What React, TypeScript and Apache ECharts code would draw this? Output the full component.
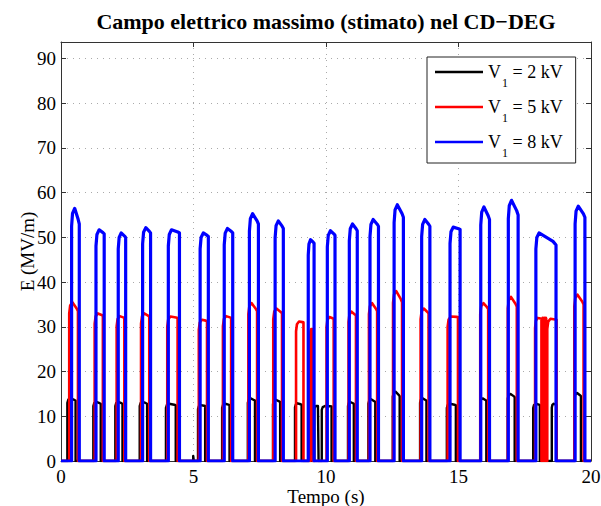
import React, { useEffect, useRef } from "react";
import * as echarts from "echarts";

const FONT = "'Liberation Serif', 'Times New Roman', Times, serif";

const titleText = "Campo elettrico massimo (stimato) nel CD\u2212DEG";
const xName = "Tempo (s)";
const yName = "E (MV/m)";
const voltages = ["2 kV", "5 kV", "8 kV"];
const colors = ["#000000", "#ff0000", "#0000ff"];

// V1 = 8 kV pulses (start s, end s, peak MV/m, level at end MV/m)
const t8Start = [0.40, 1.32, 2.16, 3.08, 4.05, 5.25, 6.16, 7.11, 8.08, 9.33, 10.05, 10.88, 11.66, 12.57, 13.61, 14.68, 15.84, 16.88, 17.92, 19.40];
const t8End = [0.69, 1.63, 2.44, 3.38, 4.47, 5.56, 6.48, 7.45, 8.39, 9.55, 10.34, 11.18, 11.98, 12.92, 13.92, 15.06, 16.17, 17.25, 18.68, 19.77];
const e8Peak = [56.5, 51.7, 51.0, 52.2, 51.7, 51.0, 52.0, 55.3, 53.7, 49.5, 51.5, 53.0, 54.0, 57.3, 54.0, 52.3, 56.8, 58.3, 51.0, 57.0];
const e8Tail = [53.0, 50.8, 50.0, 51.0, 51.0, 50.2, 51.0, 53.0, 52.0, 48.7, 50.5, 51.5, 52.5, 54.5, 52.5, 51.8, 54.0, 55.0, 48.3, 54.5];

// V1 = 5 kV pulses
const t5Start = [0.31, 1.27, 2.10, 3.02, 4.01, 5.20, 6.11, 7.07, 8.01, 8.87, 9.40, 10.02, 10.85, 11.62, 12.53, 13.57, 14.59, 15.82, 16.86, 17.89, 18.17, 18.23, 18.29, 18.35, 19.37];
const t5End = [0.64, 1.58, 2.39, 3.33, 4.40, 5.51, 6.42, 7.40, 8.34, 9.15, 9.50, 10.29, 11.13, 11.93, 12.87, 13.87, 14.98, 16.12, 17.20, 18.13, 18.19, 18.25, 18.31, 18.70, 19.72];
const e5Peak = [35.5, 33.0, 32.4, 33.0, 32.3, 31.6, 32.4, 35.3, 34.1, 31.2, 29.5, 32.2, 33.4, 35.3, 38.0, 34.1, 32.3, 35.3, 36.7, 32.0, 32.0, 32.0, 32.0, 31.8, 37.2];
const e5Tail = [33.5, 32.5, 32.0, 32.3, 32.0, 31.3, 32.0, 33.5, 33.0, 31.0, 29.5, 31.8, 32.5, 33.5, 35.5, 33.0, 32.2, 34.0, 34.5, 31.8, 32.0, 32.0, 31.8, 31.6, 35.0];

// V1 = 2 kV pulses
const t2Start = [0.24, 1.22, 2.05, 2.97, 3.96, 4.99, 5.17, 6.08, 7.05, 8.00, 8.83, 9.56, 9.84, 10.83, 11.60, 12.52, 13.55, 14.56, 15.82, 16.86, 17.82, 18.52, 19.38];
const t2End = [0.55, 1.50, 2.32, 3.25, 4.33, 5.01, 5.44, 6.36, 7.32, 8.27, 9.08, 9.72, 10.21, 11.05, 11.86, 12.78, 13.79, 14.90, 16.05, 17.12, 18.07, 18.70, 19.62];
const e2Peak = [14.0, 13.2, 13.2, 13.2, 12.8, 1.2, 12.5, 12.8, 14.0, 13.7, 12.9, 12.3, 12.3, 13.2, 13.8, 15.5, 14.0, 12.8, 14.0, 15.0, 12.8, 12.8, 15.2];
const e2Tail = [13.5, 12.8, 12.8, 12.8, 12.5, 1.2, 12.3, 12.5, 13.5, 13.2, 12.6, 12.3, 12.2, 12.8, 13.2, 14.5, 13.5, 12.5, 13.5, 14.3, 12.5, 12.5, 14.5];

const X_MIN = 0;
const X_MAX = 20;
const Y_MAX = 93.7;

function buildPulses(starts: number[], ends: number[], peaks: number[], tails: number[]): [number, number][] {
  const pts: [number, number][] = [[X_MIN, 0]];
  for (let i = 0; i < starts.length; i++) {
    const s = starts[i];
    const e = ends[i];
    const p = peaks[i];
    const t = tails[i];
    const w = e - s;
    const tp = s + Math.min(0.4 * w, 0.12);
    pts.push([s, 0]);
    pts.push([s, 0.93 * p]);
    pts.push([s + 0.3 * (tp - s), 0.98 * p]);
    pts.push([tp, p]);
    pts.push([e - 0.15 * w, 0.5 * (p + t) + 0.2 * (t - p)]);
    pts.push([e, t]);
    pts.push([e, 0]);
  }
  pts.push([X_MAX, 0]);
  return pts;
}

export default function App() {
  const ref = useRef<HTMLDivElement>(null);
  useEffect(() => {
    if (!ref.current) return;
    const chart = echarts.init(ref.current, null, { renderer: "svg" });
    const data2 = buildPulses(t2Start, t2End, e2Peak, e2Tail);
    const data5 = buildPulses(t5Start, t5End, e5Peak, e5Tail);
    const data8 = buildPulses(t8Start, t8End, e8Peak, e8Tail);
    const names = voltages.map((v) => `V1 = ${v}`);
    const axisLineStyle = { color: "#333", width: 1 };
    const gridLine = { show: true, lineStyle: { color: "#aaa", width: 1, type: [1, 5] as any } };
    const widths = [2.4, 2.6, 3.2];
    const datas = [data2, data5, data8];
    chart.setOption({
      animation: false,
      backgroundColor: "#fff",
      title: {
        text: titleText,
        left: 326,
        textAlign: "center",
        top: 10,
        padding: 0,
        textStyle: { fontFamily: FONT, fontWeight: "bold", fontSize: 22, color: "#000" },
      },
      grid: { left: 61, right: 10, top: 42, bottom: 45, containLabel: false, outerBoundsMode: "none" },
      legend: {
        orient: "vertical",
        left: 427,
        top: 57,
        padding: [6, 13, 4, 8],
        itemGap: 9,
        itemWidth: 48,
        itemHeight: 2.5,
        icon: "rect",
        selectedMode: false,
        backgroundColor: "#fff",
        borderColor: "#222",
        borderWidth: 1,
        data: names,
        formatter: (name: string) => {
          const idx = names.indexOf(name);
          return `{a|V}{s|1}{a| = ${voltages[idx]}}`;
        },
        textStyle: {
          fontFamily: FONT,
          fontSize: 18,
          color: "#000",
          rich: {
            a: { fontFamily: FONT, fontSize: 18, color: "#000", lineHeight: 18, verticalAlign: "top" },
            s: { fontFamily: FONT, fontSize: 12, color: "#000", lineHeight: 12, padding: [14, 0, 0, 1], verticalAlign: "top" },
          },
        },
      },
      xAxis: [
        {
          type: "value",
          min: X_MIN,
          max: X_MAX,
          interval: 5,
          position: "bottom",
          name: xName,
          nameLocation: "middle",
          nameGap: 26,
          nameMoveOverlap: false,
          nameTextStyle: { fontFamily: FONT, fontSize: 19, color: "#000", lineHeight: 19 },
          axisLine: { show: true, onZero: false, lineStyle: axisLineStyle },
          axisTick: { show: true, inside: true, length: 5, lineStyle: axisLineStyle },
          axisLabel: { fontFamily: FONT, fontSize: 19, color: "#000", margin: 6, lineHeight: 19 },
          splitLine: gridLine,
        },
        {
          type: "value",
          min: X_MIN,
          max: X_MAX,
          interval: 5,
          position: "top",
          axisLine: { show: true, onZero: false, lineStyle: axisLineStyle },
          axisTick: { show: true, inside: true, length: 5, lineStyle: axisLineStyle },
          axisLabel: { show: false },
          splitLine: { show: false },
        },
      ],
      yAxis: [
        {
          type: "value",
          min: 0,
          max: Y_MAX,
          interval: 10,
          position: "left",
          name: yName,
          nameLocation: "middle",
          nameGap: 24,
          nameMoveOverlap: false,
          nameTextStyle: { fontFamily: FONT, fontSize: 19, color: "#000" },
          axisLine: { show: true, onZero: false, lineStyle: axisLineStyle },
          axisTick: { show: true, inside: true, length: 5, lineStyle: axisLineStyle },
          axisLabel: {
            fontFamily: FONT,
            fontSize: 19,
            color: "#000",
            margin: 5,
            formatter: (v: number) => (Math.abs(v % 10) < 1e-9 ? String(v) : ""),
          },
          splitLine: gridLine,
        },
        {
          type: "value",
          min: 0,
          max: Y_MAX,
          interval: 10,
          position: "right",
          axisLine: { show: true, onZero: false, lineStyle: axisLineStyle },
          axisTick: { show: true, inside: true, length: 5, lineStyle: axisLineStyle },
          axisLabel: { show: false },
          splitLine: { show: false },
        },
      ],
      series: names.map((n, i) => ({
        name: n,
        type: "line",
        xAxisIndex: 0,
        yAxisIndex: 0,
        data: datas[i],
        showSymbol: false,
        symbol: "none",
        color: colors[i],
        itemStyle: { color: colors[i] },
        lineStyle: { color: colors[i], width: widths[i], join: "round" },
        z: 2 + i,
      })),
    });
    return () => chart.dispose();
  }, []);
  return <div ref={ref} style={{ position: "absolute", left: 0, top: 0, width: 601, height: 506 }} />;
}
